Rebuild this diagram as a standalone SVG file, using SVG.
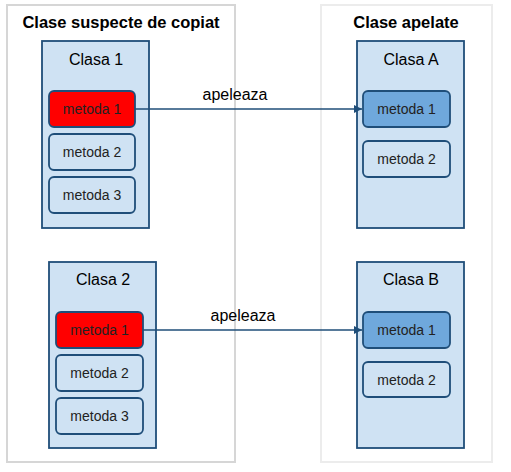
<svg xmlns="http://www.w3.org/2000/svg" width="511" height="472" viewBox="0 0 511 472">
<defs>
<style>
text{font-family:"Liberation Sans",Arial,sans-serif;fill:#000;text-anchor:middle}
.title{font-size:16.5px;font-weight:bold}
.cls{font-size:16px}
.m{font-size:14px;fill:#222}
.lbl{font-size:16px}
.cont{fill:#fff;stroke-width:2}
.box{fill:#cfe2f3;stroke:#1f4e79;stroke-width:1.8}
.meth{fill:#cfe2f3;stroke:#1f4e79;stroke-width:1.8}
.red{fill:#ff0000;stroke:#1f4e79;stroke-width:1.8}
.blue{fill:#6fa8dc;stroke:#1f4e79;stroke-width:1.8}
.conn{stroke:#1f4e79;stroke-width:1.6;fill:none}
</style>
<marker id="arr" viewBox="0 0 10 10" refX="10" refY="5" markerWidth="5" markerHeight="5" orient="auto" markerUnits="strokeWidth">
<path d="M0,0 L10,5 L0,10 z" fill="#1f4e79"/>
</marker>
</defs>
<rect width="511" height="472" fill="#fff"/>
<g id="grp-suspect">
<rect class="cont" x="7" y="5" width="228" height="457" stroke="#d6d6d6"/>
<text class="title" x="121" y="28">Clase suspecte de copiat</text>
</g>
<g id="grp-apelate">
<rect class="cont" x="321" y="5" width="171" height="457" stroke="#ececec"/>
<text class="title" x="406" y="28">Clase apelate</text>
</g>
<g id="clasa1">
<rect class="box" x="42" y="41" width="107" height="187"/>
<text class="cls" x="96" y="65">Clasa 1</text>
<rect class="red" x="49" y="91" width="86" height="36" rx="5"/>
<text class="m" x="92" y="114">metoda 1</text>
<rect class="meth" x="49" y="134" width="86" height="36" rx="5"/>
<text class="m" x="92" y="157">metoda 2</text>
<rect class="meth" x="49" y="177" width="86" height="36" rx="5"/>
<text class="m" x="92" y="200">metoda 3</text>
</g>
<g id="clasa2">
<rect class="box" x="49" y="262" width="107" height="186"/>
<text class="cls" x="103" y="285">Clasa 2</text>
<rect class="red" x="56" y="312" width="87" height="36" rx="5"/>
<text class="m" x="99.5" y="335">metoda 1</text>
<rect class="meth" x="56" y="355" width="87" height="36" rx="5"/>
<text class="m" x="99.5" y="378">metoda 2</text>
<rect class="meth" x="56" y="398" width="87" height="36" rx="5"/>
<text class="m" x="99.5" y="421">metoda 3</text>
</g>
<g id="clasaA">
<rect class="box" x="357" y="41" width="107" height="187"/>
<text class="cls" x="411" y="65">Clasa A</text>
<rect class="blue" x="363" y="91" width="87" height="36" rx="5"/>
<text class="m" x="406.5" y="114">metoda 1</text>
<rect class="meth" x="363" y="141" width="87" height="36" rx="5"/>
<text class="m" x="406.5" y="164">metoda 2</text>
</g>
<g id="clasaB">
<rect class="box" x="357" y="262" width="107" height="186"/>
<text class="cls" x="411" y="285">Clasa B</text>
<rect class="blue" x="363" y="312" width="87" height="36" rx="5"/>
<text class="m" x="406.5" y="335">metoda 1</text>
<rect class="meth" x="363" y="362" width="87" height="35" rx="5"/>
<text class="m" x="406.5" y="385">metoda 2</text>
</g>
<g id="connectors">
<line class="conn" x1="135" y1="109" x2="362" y2="109" marker-end="url(#arr)"/>
<text class="lbl" x="235" y="100">apeleaza</text>
<line class="conn" x1="143" y1="330" x2="362" y2="330" marker-end="url(#arr)"/>
<text class="lbl" x="243" y="321">apeleaza</text>
</g>
</svg>
